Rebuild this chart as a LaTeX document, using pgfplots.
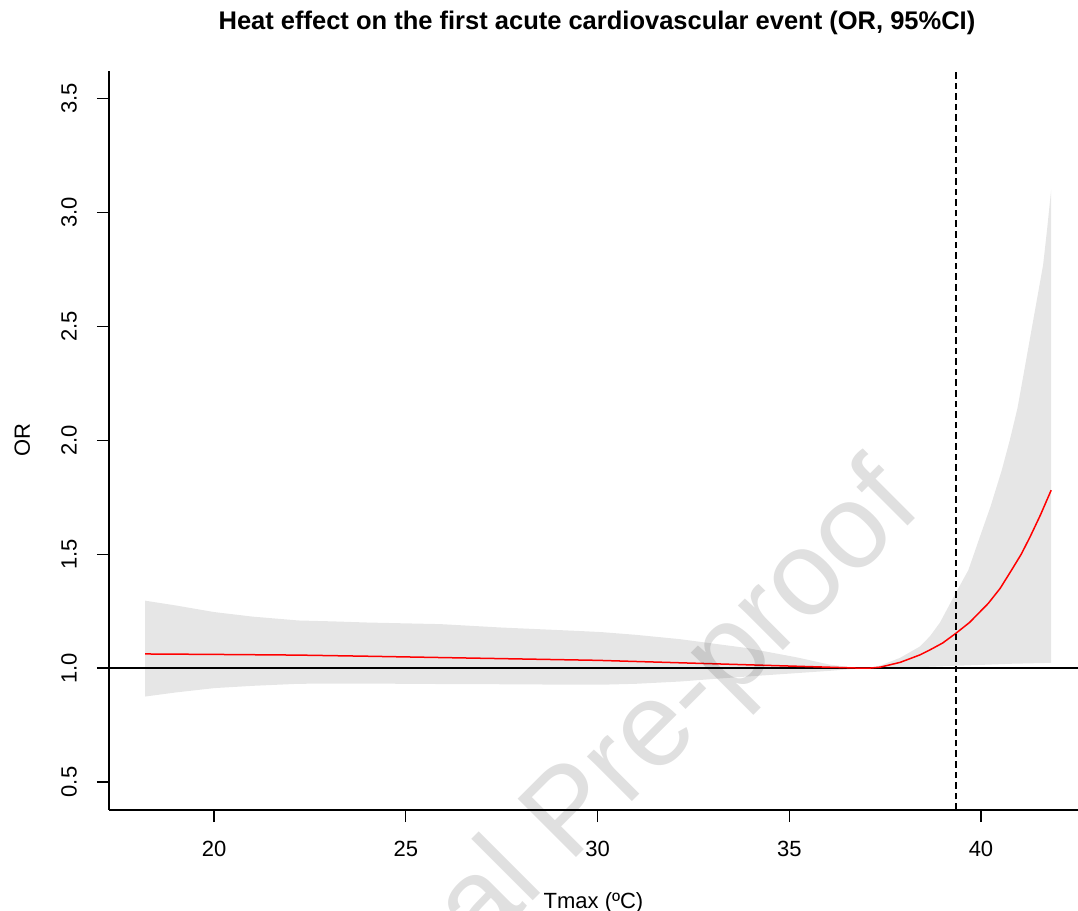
\documentclass[border=0pt]{standalone}
\usepackage{fontspec}
\setmainfont{Liberation Sans}
\usepackage{pgfplots}
\pgfplotsset{compat=1.18}
\definecolor{bandgrey}{RGB}{230,230,230}

\begin{document}
\begin{tikzpicture}[x=1pt,y=1pt]
\begin{axis}[
  at={(54.5pt,50.5pt)}, anchor=south west,
  scale only axis, width=484.5pt, height=369.7pt,
  xmin=17.26, xmax=42.53, ymin=0.377, ymax=3.623,
  axis x line*=bottom, axis y line*=left,
  axis line style={-, line width=0.65pt, black},
  tick align=outside, major tick length=6pt,
  tick style={line width=0.65pt, black},
  xtick={20,25,30,35,40},
  ytick={0.5,1.0,1.5,2.0,2.5,3.0,3.5},
  /pgf/number format/assume math mode=true,
  tick label style={font=\fontsize{11}{13}\selectfont},
  yticklabel style={rotate=90, anchor=south,
    /pgf/number format/.cd, fixed, fixed zerofill, precision=1},
  xticklabel style={anchor=north},
  xticklabel shift=6pt, yticklabel shift=6.6pt,
  xlabel={Tmax (ºC)}, ylabel={OR},
  label style={font=\fontsize{11}{13}\selectfont},
  xlabel style={at={(axis description cs:0.5,0)}, anchor=base, yshift=-49pt},
  ylabel style={at={([xshift=-39.5pt]axis description cs:0,0.5)}, rotate=0, anchor=base},
]
% 95% CI band
\addplot[fill=bandgrey, draw=none] coordinates {
  (18.2,1.296) (19,1.275) (20,1.246) (21,1.226) (22.2,1.209) (23.1,1.205)
  (24,1.200) (25.9,1.193) (27.5,1.178) (29.5,1.163) (30.1,1.158) (31,1.146)
  (32.15,1.127) (33,1.108) (33.9,1.088) (35.2,1.047) (36.06,1.015) (36.5,1.006)
  (36.9,1.001) (37.1,1.000) (37.37,1.011) (37.89,1.045) (38.41,1.095)
  (38.67,1.140) (38.93,1.200) (39.34,1.329) (39.67,1.430) (39.97,1.576)
  (40.25,1.710) (40.54,1.868) (40.75,2.000) (40.95,2.140) (41.1,2.280)
  (41.28,2.450) (41.45,2.610) (41.62,2.770) (41.72,2.920) (41.83,3.100)
  (41.83,1.023) (40.8,1.019) (40,1.014) (39.34,1.010) (38.67,1.006)
  (38,1.002) (37.37,1.000) (37.1,1.000) (36.9,0.999) (36.5,0.994)
  (36.06,0.988) (35.2,0.978) (33.9,0.963) (33,0.952) (32.15,0.941) (31,0.931)
  (30.1,0.927) (29.5,0.927) (27.5,0.929) (25.9,0.930) (24,0.932) (23.1,0.932)
  (22.2,0.931) (21,0.922) (20,0.912) (19,0.893) (18.2,0.875)
} -- cycle;
% reference line OR = 1
\addplot[black, line width=0.65pt] coordinates {(17.26,1) (42.53,1)};
% point estimate
\addplot[red, line width=0.75pt] coordinates {
  (18.2,1.062) (20,1.060) (22.2,1.057) (24,1.052) (26,1.046) (28,1.040)
  (30,1.034) (32,1.024) (33,1.019) (34,1.014) (35,1.009) (36,1.004)
  (36.8,1.000) (37.1,1.000) (37.37,1.004) (37.89,1.025) (38.41,1.058)
  (38.67,1.080) (39.0,1.110) (39.34,1.152) (39.7,1.200) (40.19,1.284)
  (40.5,1.350) (40.8,1.431) (41.05,1.500) (41.28,1.576) (41.55,1.672)
  (41.83,1.781)
};
% percentile threshold
\addplot[black, line width=0.6pt, dash pattern=on 3.3pt off 2pt]
  coordinates {(39.35,0.377) (39.35,3.623)};
\end{axis}
\node[anchor=base, font=\bfseries\fontsize{12.75}{15}\selectfont]
  at (298.5,440.9) {Heat effect on the first acute cardiovascular event (OR, 95\%CI)};
\node[rotate=45, anchor=base, opacity=0.12, font=\fontsize{60}{72}\selectfont]
  at (298,36.5) {Journal Pre-proof};
\pgfresetboundingbox
\path (0,0) rectangle (539,455.5);
\end{tikzpicture}
\end{document}
